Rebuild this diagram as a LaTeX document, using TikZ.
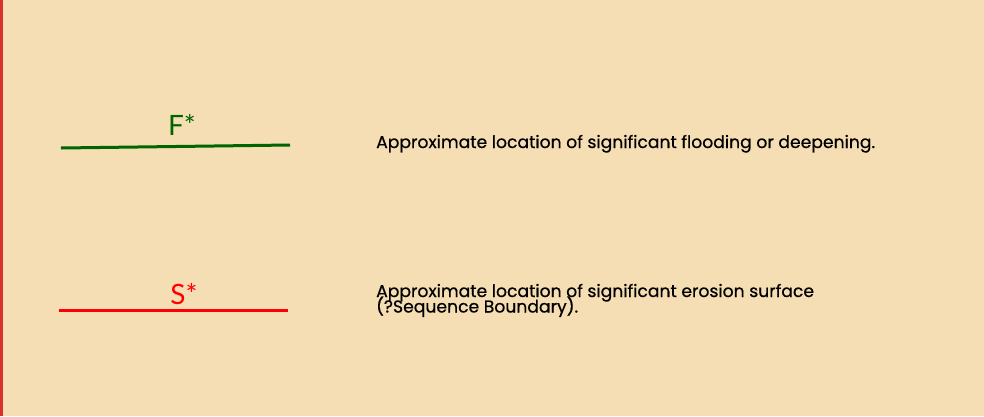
\documentclass[tikz,border=0pt]{standalone}
\usepackage{fontspec}
\setmainfont{Poppins}
\newfontfamily\descfont{Poppins}[FakeBold=0.6]
\newfontfamily\labfont{Lato}
\definecolor{bg}{HTML}{F5DEB3}
\definecolor{barred}{HTML}{D93030}
\definecolor{fgreen}{HTML}{006400}
\definecolor{sred}{HTML}{FF0000}
\begin{document}
\begin{tikzpicture}[x=1pt,y=-1pt,
  desc/.style={anchor=base west,inner sep=0pt,font=\descfont\fontsize{17.2}{20}\selectfont},
  marklab/.style={anchor=base,inner sep=0pt,font=\labfont\fontsize{28}{28}\selectfont},
  horizon/.style={line width=3pt}]
\fill[bg] (0,0) rectangle (984,416);
\useasboundingbox (0,0) rectangle (984,416);
\fill[barred] (0,0) rectangle (3,416);
% flooding surface
\coordinate (f1) at (61,148);
\coordinate (f2) at (290,145);
\draw[horizon,fgreen] (f1) -- (f2);
\node[marklab,text=fgreen] (flab) at (182,135) {F*};
\node[desc] (ftext) at (376,148) {Approximate location of significant flooding or deepening.};
% sequence boundary
\coordinate (s1) at (59,310);
\coordinate (s2) at (288,310);
\draw[horizon,sred] (s1) -- (s2);
\node[marklab,text=sred] (slab) at (184,304) {S*};
\node[desc] (stext) at (376,297) {Approximate location of significant erosion surface};
\node[desc] (stext2) at ([yshift=-15.5pt]stext.base west) {(?Sequence Boundary).};
\end{tikzpicture}
\end{document}
